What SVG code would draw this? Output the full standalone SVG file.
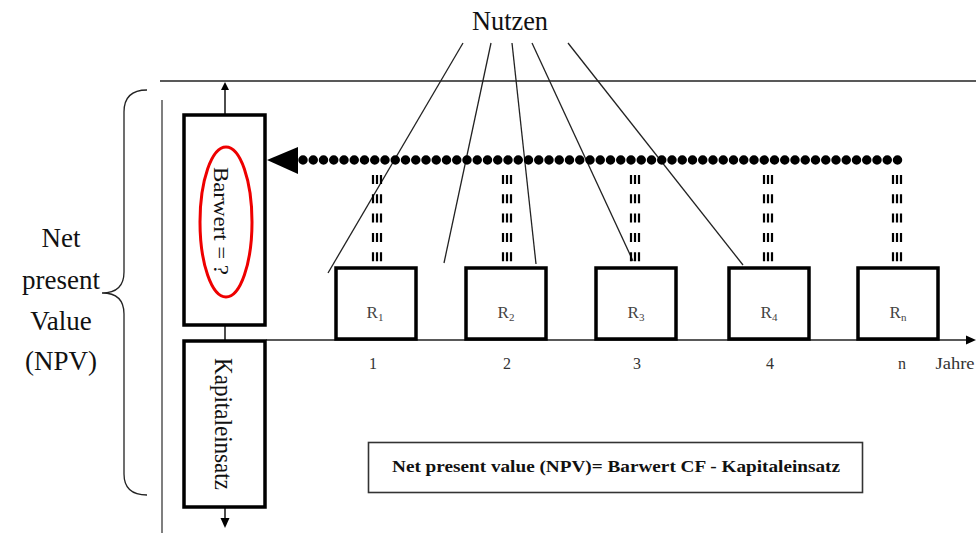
<svg xmlns="http://www.w3.org/2000/svg" width="976" height="533" viewBox="0 0 976 533">
  <style>
    .serif { font-family: "Liberation Serif", "Times New Roman", serif; fill: #111; }
    .box { fill: #fff; stroke: #000; stroke-width: 3.5; }
    .thin { fill: none; stroke: #222; stroke-width: 1.3; }
    .lbl { font-family: "Liberation Serif", "Times New Roman", serif; font-size: 17px; fill: #444; text-anchor: middle; }
    .num { font-family: "Liberation Serif", "Times New Roman", serif; font-size: 16px; fill: #333; text-anchor: middle; }
    .bar { stroke: #000; stroke-width: 2.2; stroke-dasharray: 9 10.3; }
  </style>
  <defs>
    <g id="dash">
      <line class="bar" x1="-4" y1="175" x2="-4" y2="262"/>
      <line class="bar" x1="0" y1="175" x2="0" y2="262"/>
      <line class="bar" x1="4" y1="175" x2="4" y2="262"/>
    </g>
  </defs>

  <rect width="976" height="533" fill="#fff"/>

  <!-- frame -->
  <line x1="160" y1="81" x2="976" y2="81" stroke="#222" stroke-width="1.5"/>
  <line x1="162" y1="100" x2="162" y2="533" stroke="#555" stroke-width="1.5"/>

  <!-- brace and label -->
  <g id="npv-label">
    <path class="thin" d="M147,90 C132,90 124,97 124,112 L124,272 C124,285 117,293 102,293 C117,293 124,301 124,314 L124,474 C124,489 132,495 147,495"/>
    <g class="serif" font-size="27" text-anchor="middle">
      <text x="61" y="247">Net</text>
      <text x="61" y="289">present</text>
      <text x="61" y="330">Value</text>
      <text x="61" y="370">(NPV)</text>
    </g>
  </g>

  <!-- title -->
  <g id="nutzen">
    <text class="serif" x="510" y="30" font-size="28" text-anchor="middle" textLength="76" lengthAdjust="spacingAndGlyphs">Nutzen</text>
  </g>

  <g id="connectors">
    <!-- lines from the title -->
    <line class="thin" x1="463" y1="43" x2="328" y2="273"/>
    <line class="thin" x1="491" y1="43" x2="444" y2="263"/>
    <line class="thin" x1="512" y1="43" x2="536" y2="264"/>
    <line class="thin" x1="532" y1="43" x2="633" y2="261"/>
    <line class="thin" x1="568" y1="43" x2="743" y2="265"/>

    <!-- discounting arrow -->
    <line x1="303" y1="160" x2="898.5" y2="160" stroke="#000" stroke-width="9.5" stroke-linecap="round" stroke-dasharray="0 10.25"/>
    <polygon points="267,160 298,147 298,174" fill="#000"/>

    <!-- vertical dashed drops -->
    <use href="#dash" x="377"/>
    <use href="#dash" x="507"/>
    <use href="#dash" x="635"/>
    <use href="#dash" x="768"/>
    <use href="#dash" x="897"/>

    <!-- time axis -->
    <line x1="266" y1="340" x2="968" y2="340" stroke="#222" stroke-width="1.4"/>
    <polygon points="976,340 966,335.5 966,344.5" fill="#000"/>

    <!-- vertical arrows on left column -->
    <line x1="225" y1="114" x2="225" y2="88" stroke="#000" stroke-width="1.4"/>
    <polygon points="225,82 221,90 229,90" fill="#000"/>
    <line x1="225" y1="326" x2="225" y2="340" stroke="#000" stroke-width="1.4"/>
    <line x1="225" y1="508" x2="225" y2="520" stroke="#000" stroke-width="1.4"/>
    <polygon points="225,528 220.5,518 229.5,518" fill="#000"/>
  </g>

  <!-- present value box -->
  <g id="barwert">
    <rect class="box" x="184" y="115" width="81" height="210" stroke-width="3"/>
    <ellipse cx="226" cy="222" rx="26" ry="75" fill="none" stroke="#e00" stroke-width="3"/>
    <text class="serif" font-size="21" text-anchor="middle" textLength="108" lengthAdjust="spacingAndGlyphs" transform="translate(214,221) rotate(90)">Barwert = ?</text>
  </g>

  <!-- capital outlay box -->
  <g id="kapitaleinsatz">
    <rect class="box" x="184" y="341" width="81" height="166" stroke-width="3"/>
    <text class="serif" font-size="25" text-anchor="middle" textLength="132" lengthAdjust="spacingAndGlyphs" transform="translate(215,424) rotate(90)">Kapitaleinsatz</text>
  </g>

  <!-- annual returns -->
  <g id="r1">
    <rect class="box" x="336" y="268" width="80" height="71"/>
    <text class="lbl" x="375" y="318">R<tspan font-size="11" dy="3">1</tspan></text>
  </g>
  <g id="r2">
    <rect class="box" x="466" y="268" width="80" height="71"/>
    <text class="lbl" x="506" y="318">R<tspan font-size="11" dy="3">2</tspan></text>
  </g>
  <g id="r3">
    <rect class="box" x="596" y="268" width="80" height="71"/>
    <text class="lbl" x="636" y="318">R<tspan font-size="11" dy="3">3</tspan></text>
  </g>
  <g id="r4">
    <rect class="box" x="729" y="268" width="80" height="71"/>
    <text class="lbl" x="769" y="318">R<tspan font-size="11" dy="3">4</tspan></text>
  </g>
  <g id="rn">
    <rect class="box" x="858" y="268" width="80" height="71"/>
    <text class="lbl" x="898" y="318">R<tspan font-size="11" dy="3">n</tspan></text>
  </g>

  <!-- axis labels -->
  <g id="axis-labels">
    <text class="num" x="373" y="369">1</text>
    <text class="num" x="507" y="369">2</text>
    <text class="num" x="637" y="369">3</text>
    <text class="num" x="770" y="369">4</text>
    <text class="num" x="902" y="369">n</text>
    <text class="num" x="955" y="369" textLength="39" lengthAdjust="spacingAndGlyphs">Jahre</text>
  </g>

  <!-- formula -->
  <g id="formula">
    <rect x="368.5" y="442.5" width="494" height="50" fill="#fff" stroke="#333" stroke-width="1.6"/>
    <text class="serif" x="616" y="472" font-size="16" font-weight="bold" text-anchor="middle" textLength="448" lengthAdjust="spacingAndGlyphs">Net present value (NPV)= Barwert CF - Kapitaleinsatz</text>
  </g>
</svg>
